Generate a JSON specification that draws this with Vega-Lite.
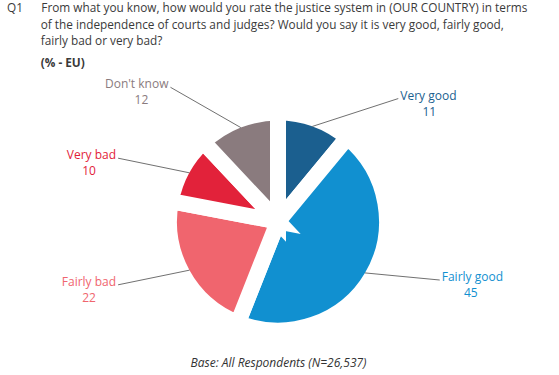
{
  "$schema": "https://vega.github.io/schema/vega-lite/v6.json",
  "width": 559,
  "height": 375,
  "autosize": {"type": "fit", "contains": "padding"},
  "padding": {"left": 0, "right": 0, "top": 3, "bottom": 4},
  "background": "white",
  "title": {
    "text": [
      "Q1\u00a0\u00a0\u00a0\u00a0\u00a0\u00a0From what you know, how would you rate the justice system in (OUR COUNTRY) in terms",
      "\u200b\u00a0\u00a0\u00a0\u00a0\u00a0\u00a0\u00a0\u00a0\u00a0\u00a0\u00a0of the independence of courts and judges? Would you say it is very good, fairly good,",
      "\u200b\u00a0\u00a0\u00a0\u00a0\u00a0\u00a0\u00a0\u00a0\u00a0\u00a0\u00a0fairly bad or very bad?"
    ],
    "subtitle": "\u200b\u00a0\u00a0\u00a0\u00a0\u00a0\u00a0\u00a0\u00a0\u00a0\u00a0\u00a0(% - EU)",
    "anchor": "start",
    "frame": "group",
    "dx": 7,
    "offset": 2,
    "font": "Open Sans",
    "fontSize": 11.8,
    "fontWeight": "normal",
    "color": "#3a3a3a",
    "lineHeight": 16.5,
    "subtitleFont": "Open Sans",
    "subtitleFontSize": 11.8,
    "subtitleFontWeight": "bold",
    "subtitleColor": "#3a3a3a",
    "subtitlePadding": 10,
    "subtitleLineHeight": 16.5
  },
  "data": {
    "values": [
      {"category": "Very good", "pct": 11},
      {"category": "Fairly good", "pct": 45},
      {"category": "Fairly bad", "pct": 22},
      {"category": "Very bad", "pct": 10},
      {"category": "Don't know", "pct": 12}
    ]
  },
  "transform": [
    {"window": [{"op": "sum", "field": "pct", "as": "cum"}], "frame": [null, 0]},
    {"calculate": "datum.cum - datum.pct", "as": "start"},
    {"calculate": "datum.cum - datum.pct / 2", "as": "mid"},
    {"calculate": "datum.mid < 50 ? 'right' : 'left'", "as": "side"},
    {"calculate": "datum.mid / 100 * 2 * PI", "as": "amid"},
    {"calculate": "datum.side == 'right' ? PI / 2 - (PI / 2 - datum.amid) * 0.65 : 3 * PI / 2 + (datum.amid - 3 * PI / 2) * 0.75", "as": "alab"},
    {"calculate": "datum.alab / (2 * PI) * 100", "as": "lab"},
    {"calculate": "width / 2 + 101 * sin(datum.amid)", "as": "lx1"},
    {"calculate": "height / 2 - 101 * cos(datum.amid)", "as": "ly1"},
    {"calculate": "width / 2 + 172 * sin(datum.alab)", "as": "lx2"},
    {"calculate": "height / 2 - 172 * cos(datum.alab)", "as": "ly2"}
  ],
  "layer": [
    {
      "mark": {"type": "point", "opacity": 0},
      "encoding": {
        "x": {
          "field": "pct",
          "type": "quantitative",
          "axis": {
            "title": "Base: All Respondents (N=26,537)",
            "domain": false,
            "ticks": false,
            "labels": false,
            "grid": false,
            "titleFont": "Open Sans",
            "titleFontStyle": "italic",
            "titleFontWeight": "normal",
            "titleFontSize": 12,
            "titleColor": "#333333",
            "titlePadding": 0,
            "offset": -14
          }
        }
      }
    },
    {
      "mark": {"type": "arc", "outerRadius": 109, "stroke": "white", "strokeWidth": 16},
      "encoding": {
        "theta": {"field": "start", "type": "quantitative", "stack": null, "scale": {"domain": [0, 100]}},
        "theta2": {"field": "cum"},
        "color": {
          "field": "category",
          "type": "nominal",
          "legend": null,
          "scale": {
            "domain": ["Very good", "Fairly good", "Fairly bad", "Very bad", "Don't know"],
            "range": ["#1b5f8f", "#1190d0", "#f0656e", "#e2223a", "#8a7b7e"]
          }
        }
      }
    },
    {
      "mark": {"type": "rule", "color": "#606060", "strokeWidth": 0.9},
      "encoding": {
        "x": {"field": "lx1", "type": "quantitative", "scale": null},
        "y": {"field": "ly1", "type": "quantitative", "scale": null},
        "x2": {"field": "lx2"},
        "y2": {"field": "ly2"}
      }
    },
    {
      "transform": [{"filter": "datum.side == 'right'"}],
      "mark": {"type": "text", "radius": 172, "align": "left", "baseline": "alphabetic", "dx": 2, "dy": 1, "font": "Open Sans", "fontSize": 12},
      "encoding": {
        "theta": {"field": "lab", "type": "quantitative", "stack": null, "scale": {"domain": [0, 100]}},
        "text": {"field": "category"},
        "color": {"field": "category", "type": "nominal", "legend": null}
      }
    },
    {
      "transform": [{"filter": "datum.side == 'right'"}],
      "mark": {"type": "text", "radius": 172, "align": "center", "baseline": "alphabetic", "dx": 31, "dy": 17, "font": "Open Sans", "fontSize": 12},
      "encoding": {
        "theta": {"field": "lab", "type": "quantitative", "stack": null, "scale": {"domain": [0, 100]}},
        "text": {"field": "pct"},
        "color": {"field": "category", "type": "nominal", "legend": null}
      }
    },
    {
      "transform": [{"filter": "datum.side == 'left'"}],
      "mark": {"type": "text", "radius": 172, "align": "right", "baseline": "alphabetic", "dx": -2, "dy": 1, "font": "Open Sans", "fontSize": 12},
      "encoding": {
        "theta": {"field": "lab", "type": "quantitative", "stack": null, "scale": {"domain": [0, 100]}},
        "text": {"field": "category"},
        "color": {"field": "category", "type": "nominal", "legend": null}
      }
    },
    {
      "transform": [{"filter": "datum.side == 'left'"}],
      "mark": {"type": "text", "radius": 172, "align": "center", "baseline": "alphabetic", "dx": -29, "dy": 17, "font": "Open Sans", "fontSize": 12},
      "encoding": {
        "theta": {"field": "lab", "type": "quantitative", "stack": null, "scale": {"domain": [0, 100]}},
        "text": {"field": "pct"},
        "color": {"field": "category", "type": "nominal", "legend": null}
      }
    }
  ],
  "config": {"view": {"stroke": null}, "font": "Open Sans"}
}
